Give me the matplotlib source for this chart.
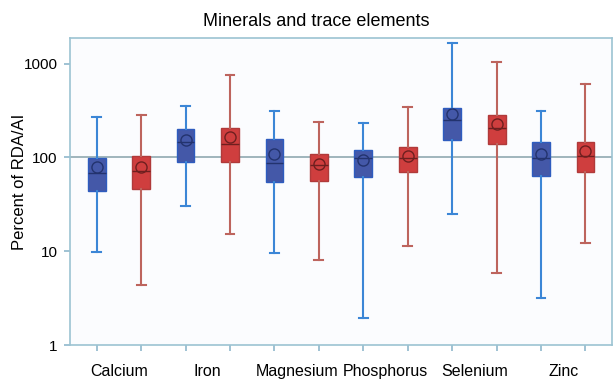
import numpy as np
import matplotlib.pyplot as plt

plt.rcParams['font.family'] = ['Liberation Sans', 'DejaVu Sans']

minerals = ['Calcium', 'Iron', 'Magnesium', 'Phosphorus', 'Selenium', 'Zinc']

# blue group, per mineral: whisker low, q1, median, q3, whisker high, mean
blue_lo = [9.9, 30, 9.6, 1.95, 25, 3.2]
blue_q1 = [44, 89, 54.5, 61, 153, 63]
blue_med = [68, 146, 87, 99, 249, 98]
blue_q3 = [98, 201, 155, 120, 337, 146]
blue_hi = [266, 351, 310, 233, 1660, 313]
blue_mean = [78, 152, 108, 94, 288, 108]

# red group
red_lo = [4.4, 15.3, 8.05, 11.3, 5.9, 12.2]
red_q1 = [45.5, 89, 56, 69, 138, 69]
red_med = [72, 139, 83, 98, 207, 103]
red_q3 = [104, 207, 108, 130, 281, 146]
red_hi = [286, 747, 239, 343, 1038, 604]
red_mean = [79, 165, 86, 104, 225, 117]


def make_stats(lo, q1, med, q3, hi, mean):
    stats = []
    for i in range(len(lo)):
        stats.append({'whislo': lo[i], 'q1': q1[i], 'med': med[i], 'q3': q3[i],
                      'whishi': hi[i], 'mean': mean[i], 'fliers': []})
    return stats


fig = plt.figure(figsize=(6.14, 3.8), dpi=100)
ax = fig.add_axes([0.114, 0.092, 0.883, 0.808])
ax.set_facecolor('#fbfcfe')

n = len(minerals)
pos_blue = np.arange(n) * 2
pos_red = np.arange(n) * 2 + 1

ax.axhline(100, color='#8fa9b0', lw=1.2, zorder=1)

groups = [
    (make_stats(blue_lo, blue_q1, blue_med, blue_q3, blue_hi, blue_mean), pos_blue,
     '#4458a8', '#2e5cbf', '#3b86d6', '#23336e'),
    (make_stats(red_lo, red_q1, red_med, red_q3, red_hi, red_mean), pos_red,
     '#cf3e3e', '#b03a3a', '#bd645d', '#6e1f1f'),
]
for stats, pos, fill, edge, whisk, dark in groups:
    ax.bxp(stats, positions=pos, widths=0.4, capwidths=0.2, showmeans=True,
           showfliers=False, patch_artist=True,
           boxprops=dict(facecolor=fill, edgecolor=edge, lw=1),
           whiskerprops=dict(color=whisk, lw=1.5),
           capprops=dict(color=whisk, lw=1.5),
           medianprops=dict(color=dark, lw=1),
           meanprops=dict(marker='o', markerfacecolor='none', markeredgecolor=dark,
                          markersize=8, markeredgewidth=1),
           zorder=3)

ax.set_yscale('log')
ax.set_ylim(1, 1870)
ax.set_yticks([1, 10, 100, 1000])
ax.set_yticklabels(['1', '10', '100', '1000'])
ax.yaxis.set_minor_locator(plt.NullLocator())
ax.set_xlim(-0.6, 2 * n - 0.4)

ax.set_xticks(np.arange(2 * n))
ax.set_xticklabels([])
ax.set_xticks(pos_blue + 0.5, minor=True)
ax.set_xticklabels(minerals, minor=True)
ax.tick_params(axis='x', which='minor', length=0, pad=14, labelsize=11.5)
ax.tick_params(axis='both', which='major', color='#8fb8cc', length=4.5, width=1.2,
               pad=4.5, labelsize=11)

for sp in ax.spines.values():
    sp.set_color('#9cc3d2')
    sp.set_linewidth(1.2)

ax.set_ylabel('Percent of RDA/AI', fontsize=12)
ax.yaxis.set_label_coords(-0.079, 0.533)
ax.set_title('Minerals and trace elements', fontsize=13, x=0.454, pad=9)

fig.savefig('out.png', dpi=100)
